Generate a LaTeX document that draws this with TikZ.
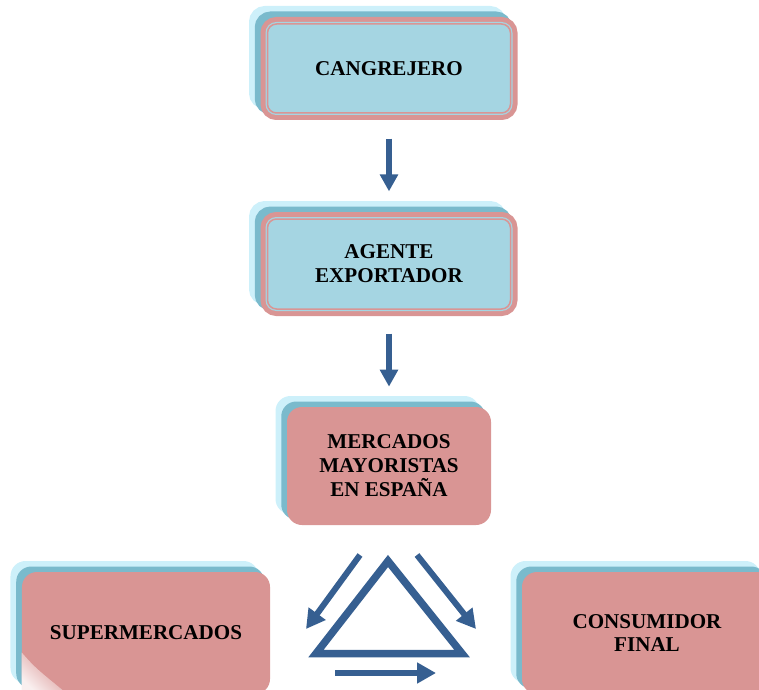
\documentclass[tikz,border=0pt]{standalone}
\usepackage{fontspec}
\setmainfont{Liberation Serif}
\usetikzlibrary{arrows.meta,shadows}

\definecolor{rosa}{RGB}{217,149,148}
\definecolor{celeste}{RGB}{165,213,226}
\definecolor{turquesa}{RGB}{122,186,204}
\definecolor{hielo}{RGB}{205,240,250}
\definecolor{azul}{RGB}{54,95,145}

\begin{document}
\begin{tikzpicture}[
    capas/.style={rounded corners=3mm, inner sep=0pt, align=center,
      font=\bfseries\fontsize{12}{13.6}\selectfont,
      general shadow={fill=hielo, shadow xshift=-2.3mm, shadow yshift=2.2mm},
      general shadow={fill=turquesa, shadow xshift=-1.15mm, shadow yshift=1.1mm},
      fill=rosa},
    marco/.style={rounded corners=1.8mm, inner sep=0pt, align=center,
      font=\bfseries\fontsize{12}{13.6}\selectfont,
      general shadow={fill=hielo, draw=hielo, line width=2.8mm,
        shadow xshift=-2.3mm, shadow yshift=2.2mm},
      general shadow={fill=turquesa, draw=turquesa, line width=2.8mm,
        shadow xshift=-1.15mm, shadow yshift=1.1mm},
      preaction={draw=rosa, line width=2.8mm},
      fill=celeste, draw=celeste, double=rosa, line width=0.25mm,
      double distance=0.3mm},
    flecha/.style={azul, line width=1.2mm,
      -{Triangle[width=3.5mm,length=3.4mm]}},
    flechad/.style={flecha, -{Triangle[width=4mm,length=3.8mm]}}]
  \clip (0,0) rectangle (15.18,-13.8);

  % cadena principal
  \node[marco, minimum width=4.86cm, minimum height=1.78cm]
    (cang) at (7.78,-1.37) {CANGREJERO};
  \node[marco, minimum width=4.86cm, minimum height=1.8cm]
    (agente) at (7.78,-5.28) {AGENTE\\EXPORTADOR};
  \node[capas, minimum width=4.08cm, minimum height=2.36cm]
    (mercados) at (7.78,-9.32) {MERCADOS\\MAYORISTAS\\EN ESPAÑA};
  \node[capas, minimum width=4.96cm, minimum height=2.44cm]
    (super) at (2.92,-12.66) {SUPERMERCADOS};
  \node[capas, minimum width=5cm, minimum height=2.44cm]
    (consum) at (12.94,-12.66) {CONSUMIDOR\\FINAL};

  % brillo en la esquina
  \shade[top color=rosa, bottom color=white!85!rosa, shading angle=-45]
    (super.west |- 0,-13.05) .. controls (0.7,-13.35) .. (1.25,-13.8)
    -- (super.west |- 0,-13.8) -- cycle;

  \draw[flecha, shorten <=5mm, shorten >=5.4mm] (cang) -- (agente);
  \draw[flecha, shorten <=4.8mm, shorten >=4mm] (agente) -- (mercados);

  % triangulo de distribucion
  \draw[azul, line width=1.5mm, miter limit=10]
    (7.76,-11.22) -- (9.24,-13.07) -- (6.32,-13.07) -- cycle;
  \coordinate (izq1) at (7.2,-11.1);
  \coordinate (izq2) at (6.12,-12.58);
  \coordinate (der1) at (8.34,-11.1);
  \coordinate (der2) at (9.52,-12.58);
  \coordinate (abj1) at (6.7,-13.46);
  \coordinate (abj2) at (8.72,-13.46);
  \draw[flechad] (izq1) -- (izq2);
  \draw[flechad] (der1) -- (der2);
  \draw[flechad] (abj1) -- (abj2);
\end{tikzpicture}
\end{document}
